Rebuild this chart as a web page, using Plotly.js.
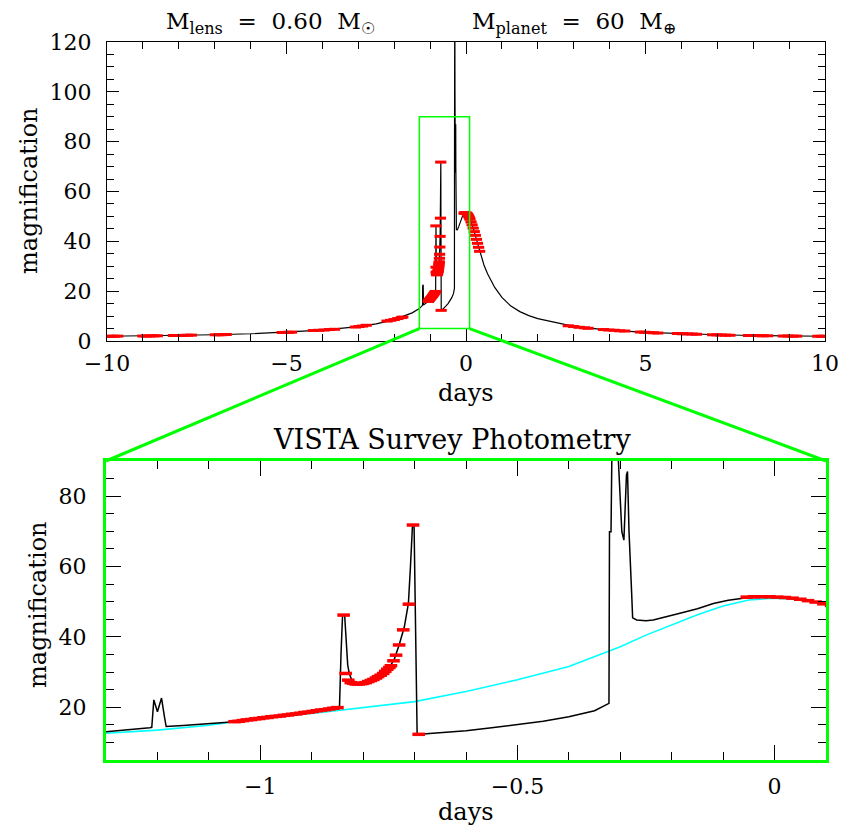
<!DOCTYPE html>
<html><head><meta charset="utf-8">
<script src="https://cdn.plot.ly/plotly-3.0.1.min.js"></script>
<style>html,body{margin:0;padding:0;background:#fff}#chart{width:855px;height:827px}</style>
</head><body><div id="chart"></div>
<script>
// ---- model light curve (black), days vs magnification ----
const modelT = [-10,-9,-8,-7,-6,-5,-4,-3,-2.5,-2,-1.75,-1.5,-1.3,-1.25,-1.215,-1.211,-1.207,-1.2,-1.192,-1.186,-1.183,-1.15,-1.1,-1.05,-1,-0.95,-0.9,-0.86,-0.846,-0.843,-0.84,-0.836,-0.833,-0.83,-0.827,-0.822,-0.81,-0.8,-0.79,-0.78,-0.77,-0.76,-0.75,-0.74,-0.73,-0.72,-0.712,-0.708,-0.704,-0.701,-0.699,-0.697,-0.695,-0.69,-0.65,-0.6,-0.55,-0.5,-0.45,-0.4,-0.35,-0.322,-0.321,-0.318,-0.317,-0.312,-0.307,-0.297,-0.293,-0.288,-0.286,-0.283,-0.278,-0.276,-0.268,-0.25,-0.236,-0.2,-0.184,-0.15,-0.119,-0.09,-0.054,-0.02,0,0.03,0.05,0.075,0.1,0.2,0.3,0.4,0.5,0.6,0.7,0.8,1,1.25,1.5,1.75,2,2.5,3,3.5,4,5,6,7,8,9,10];
const modelA = [1.9,2.0,2.2,2.5,2.9,3.5,4.4,5.8,6.9,8.6,9.8,11.3,13.0,13.6,14.2,14.3,22.1,18.7,22.6,17.0,14.5,14.8,15.3,15.9,16.8,17.7,18.7,19.6,20.1,35.3,46.2,46.2,38.6,32.0,29.6,27.7,26.7,26.7,27.3,27.9,28.7,29.7,31.2,33.4,37.7,42.8,49.5,60.0,71.8,71.8,53.8,29.2,12.3,12.3,12.7,13.3,14.2,15.0,16.0,17.3,19.0,21.1,69.9,69.9,100,150,100,69.9,67.5,86.0,87.0,69.9,52.8,45.4,44.8,44.6,44.8,46.0,46.7,48.0,49.5,50.4,51.1,51.3,51.3,51.1,50.7,50.0,49.4,45.3,40.0,35.0,30.5,27.0,24.0,21.5,17.5,14.0,11.8,10.2,9.0,7.3,5.9,5.1,4.4,3.5,2.9,2.5,2.2,2.0,1.9];

// ---- single-lens (no planet) curve (cyan), zoom panel only ----
const singleT = [-1.3,-1.2,-1.1,-1.0,-0.9,-0.8,-0.7,-0.6,-0.5,-0.4,-0.3,-0.25,-0.2,-0.15,-0.1,-0.05,0,0.05,0.1];
const singleA = [12.6,13.5,14.9,16.9,18.2,19.8,21.6,24.5,27.8,31.6,37.2,40.5,43.5,46.3,48.8,50.5,51.0,50.6,49.3];

// ---- VISTA photometry (red) ----
const dataT = [-9.98,-9.9,-9.8,-9.7,-9.0,-8.9,-8.8,-8.7,-8.6,-8.15,-8.0,-7.9,-7.75,-7.65,-6.98,-6.88,-6.78,-6.68,-5.12,-5.03,-4.94,-4.86,-4.25,-4.1,-3.95,-3.8,-3.66,-3.08,-2.98,-2.88,-2.78,-2.2,-2.1,-2.0,-1.9,-1.8,-1.76,
 -1.050,-1.042,-1.034,-1.026,-1.018,-1.010,-1.002,-0.994,-0.986,-0.978,-0.970,-0.962,-0.954,-0.946,-0.938,-0.930,-0.922,-0.914,-0.906,-0.898,-0.890,-0.882,-0.874,-0.866,-0.858,-0.850,
 -0.838,-0.834,-0.829,-0.824,-0.819,-0.814,-0.809,-0.804,-0.800,-0.795,-0.790,-0.785,-0.780,-0.775,-0.771,-0.766,-0.761,-0.757,-0.753,-0.749,-0.746,-0.741,-0.736,-0.730,-0.722,-0.711,-0.703,-0.692,
 -0.054,-0.040,-0.025,-0.010,0.005,0.020,0.035,0.050,0.065,0.080,0.095,0.11,0.14,0.17,0.20,0.23,0.26,0.29,0.32,0.35,0.38,
 2.85,3.0,3.15,3.3,3.4,3.83,3.98,4.13,4.28,4.42,4.86,4.98,5.1,5.22,5.34,5.89,6.03,6.17,6.3,6.42,6.87,6.99,7.11,7.23,7.35,7.87,8.0,8.13,8.27,8.4,8.84,8.97,9.1,9.21,9.8,9.9,9.99];
const dataA = [1.9,1.9,1.9,1.95,2.0,2.0,2.05,2.05,2.1,2.2,2.2,2.25,2.3,2.35,2.5,2.5,2.55,2.6,3.4,3.45,3.5,3.55,4.2,4.3,4.4,4.6,4.7,5.6,5.8,6.0,6.3,8.0,8.3,8.6,9.0,9.4,9.6,
 15.9,16.0,16.2,16.4,16.5,16.7,16.8,17.0,17.1,17.3,17.4,17.5,17.7,17.8,18.0,18.1,18.3,18.5,18.6,18.8,19.0,19.2,19.3,19.5,19.7,19.9,
 46.2,29.6,27.7,27.0,26.8,26.6,26.6,26.7,26.8,27.0,27.3,27.6,27.9,28.3,28.7,29.1,29.6,30.2,30.8,31.3,31.8,33.2,34.8,37.7,42.0,49.3,71.8,12.3,
 51.3,51.4,51.4,51.4,51.3,51.2,51.0,50.7,50.3,49.9,49.4,48.9,47.8,46.6,45.3,43.9,42.4,40.8,39.2,37.6,36.0,
 6.1,5.8,5.5,5.3,5.1,4.6,4.4,4.3,4.1,4.0,3.6,3.5,3.4,3.3,3.2,3.0,2.9,2.85,2.8,2.7,2.5,2.45,2.4,2.35,2.3,2.2,2.2,2.15,2.1,2.1,2.0,2.0,1.95,1.95,1.9,1.9,1.9];

// ---- axes ----
const topXRange = [-10, 10], topYRange = [0, 120];
const zoomXRange = [-1.3, 0.1], zoomYRange = [5, 90];
const xAxisTitle = 'days', yAxisTitle = 'magnification';
const titleLens = 'M<sub>lens</sub>  =  0.60  M<sub>\u2609</sub>';
const titlePlanet = 'M<sub>planet</sub>  =  60  M<sub>\u2295</sub>';
const zoomTitle = 'VISTA Survey Photometry';

const W = 855, H = 827;
const topDom = {x: [107/W, 825/W], y: [1-341/H, 1-42/H]};
const botDom = {x: [106/W, 826/W], y: [1-760/H, 1-461/H]};
const F = '"DejaVu Serif", "Liberation Serif", serif';
const GREEN = '#00ff00';

function toPaper(v, r, d){ return d[0] + (v - r[0])/(r[1]-r[0])*(d[1]-d[0]); }

const red = {color:'#ff0000', symbol:'line-ew-open', size:9, line:{color:'#ff0000', width:3.5}};

const traces = [
  {x:modelT, y:modelA, xaxis:'x', yaxis:'y', mode:'lines', line:{color:'#000', width:1.2}, hoverinfo:'skip'},
  {x:dataT, y:dataA, xaxis:'x', yaxis:'y', mode:'markers', marker:Object.assign({}, red, {size:8, line:{color:'#ff0000', width:3}})},
  {x:singleT, y:singleA, xaxis:'x2', yaxis:'y2', mode:'lines', line:{color:'#00ffff', width:1.6}},
  {x:modelT, y:modelA, xaxis:'x2', yaxis:'y2', mode:'lines', line:{color:'#000', width:1.5}},
  {x:dataT, y:dataA, xaxis:'x2', yaxis:'y2', mode:'markers', marker:red}
];

const tickfont = {family:F, size:22, color:'#000'};
const base = {showgrid:false, zeroline:false, showline:true, mirror:'allticks', ticks:'inside', tickfont:tickfont, tickcolor:'#000', fixedrange:true};

const layout = {
  width:W, height:H, margin:{l:0,r:0,t:0,b:0}, paper_bgcolor:'#fff', plot_bgcolor:'#fff', showlegend:false,
  xaxis: Object.assign({}, base, {domain:topDom.x, anchor:'y', range:topXRange, tick0:0, dtick:5, ticklen:12, linecolor:'#000', linewidth:1,
      minor:{dtick:1, ticklen:7, ticks:'inside', tickcolor:'#000'}, ticklabelstandoff:3}),
  yaxis: Object.assign({}, base, {domain:topDom.y, anchor:'x', range:topYRange, tick0:0, dtick:20, ticklen:12, linecolor:'#000', linewidth:1,
      minor:{dtick:5, ticklen:7, ticks:'inside', tickcolor:'#000'}, ticklabelstandoff:10}),
  xaxis2: Object.assign({}, base, {domain:botDom.x, anchor:'y2', range:zoomXRange, tick0:0, dtick:0.5, ticklen:15, linecolor:GREEN, linewidth:3,
      minor:{dtick:0.1, ticklen:8, ticks:'inside', tickcolor:'#000'}, ticklabelstandoff:5}),
  yaxis2: Object.assign({}, base, {domain:botDom.y, anchor:'x2', range:zoomYRange, tick0:0, dtick:20, ticklen:15, linecolor:GREEN, linewidth:3,
      minor:{dtick:5, ticklen:8, ticks:'inside', tickcolor:'#000'}, ticklabelstandoff:12}),
  shapes: [
    {type:'rect', xref:'x', yref:'y', x0:zoomXRange[0], x1:zoomXRange[1], y0:zoomYRange[0], y1:zoomYRange[1], line:{color:GREEN, width:1.5}},
    {type:'line', xref:'paper', yref:'paper', x0:toPaper(zoomXRange[0], topXRange, topDom.x), y0:toPaper(zoomYRange[0], topYRange, topDom.y), x1:botDom.x[0], y1:botDom.y[1], line:{color:GREEN, width:3}},
    {type:'line', xref:'paper', yref:'paper', x0:toPaper(zoomXRange[1], topXRange, topDom.x), y0:toPaper(zoomYRange[0], topYRange, topDom.y), x1:botDom.x[1], y1:botDom.y[1], line:{color:GREEN, width:3}}
  ],
  annotations: [
    {text:titleLens, xref:'paper', yref:'paper', x:270/W, y:1-23/H, xanchor:'center', yanchor:'middle', showarrow:false, font:{family:F, size:23, color:'#000'}},
    {text:titlePlanet, xref:'paper', yref:'paper', x:574/W, y:1-23/H, xanchor:'center', yanchor:'middle', showarrow:false, font:{family:F, size:23, color:'#000'}},
    {text:xAxisTitle, xref:'paper', yref:'paper', x:466/W, y:1-393/H, xanchor:'center', yanchor:'middle', showarrow:false, font:{family:F, size:24, color:'#000'}},
    {text:yAxisTitle, xref:'paper', yref:'paper', x:29/W, y:1-191/H, xanchor:'center', yanchor:'middle', textangle:-90, showarrow:false, font:{family:F, size:24, color:'#000'}},
    {text:zoomTitle, xref:'paper', yref:'paper', x:452/W, y:1-439/H, xanchor:'center', yanchor:'middle', showarrow:false, font:{family:F, size:27, color:'#000'}},
    {text:xAxisTitle, xref:'paper', yref:'paper', x:466/W, y:1-812/H, xanchor:'center', yanchor:'middle', showarrow:false, font:{family:F, size:24, color:'#000'}},
    {text:yAxisTitle, xref:'paper', yref:'paper', x:38/W, y:1-605/H, xanchor:'center', yanchor:'middle', textangle:-90, showarrow:false, font:{family:F, size:24, color:'#000'}}
  ]
};

Plotly.newPlot('chart', traces, layout, {staticPlot:true, displayModeBar:false});
</script>
</body></html>
